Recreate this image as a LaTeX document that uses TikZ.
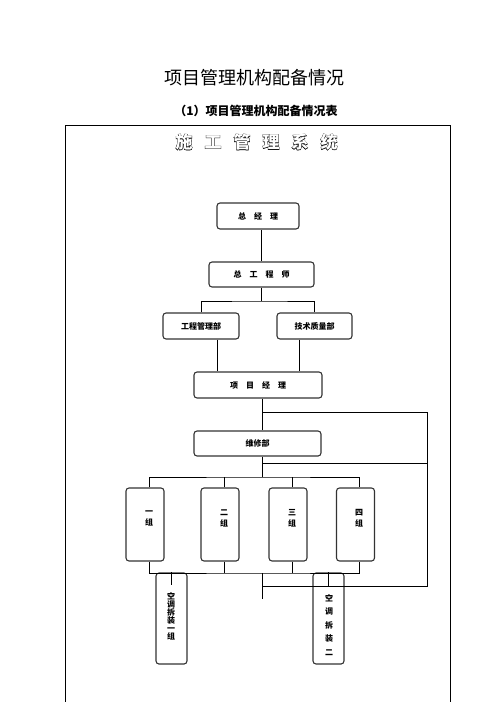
\documentclass[tikz,border=0pt]{standalone}
\usepackage{fontspec}
\setmainfont{Noto Sans CJK SC}
\newfontfamily\outlfont{Noto Sans CJK SC}[BoldFeatures={FakeBold=3.5}]
\usetikzlibrary{positioning}

\begin{document}
\begin{tikzpicture}[
    x=1pt, y=-1pt,
    orgbox/.style = {draw=black!80, line width=1.1pt, rounded corners=3pt, inner sep=0pt},
    colbox/.style = {orgbox, minimum width=38pt, minimum height=73pt},
    conn/.style = {line width=0.8pt},
    lbl/.style = {font=\fontsize{8}{8}\selectfont\bfseries, align=center, inner sep=0pt}
]
    \useasboundingbox (0,0) rectangle (496,702);

    % Titles
    \node at (254,78) [font=\fontsize{18}{18}\selectfont] (T0) {项目管理机构配备情况};
    \node at (256,111) [font=\fontsize{12}{12}\selectfont\bfseries] (T1) {（1）项目管理机构配备情况表};

    % Frame
    \draw[conn] (65,702) -- (65,125) -- (450,125) -- (450,702);

    % Outlined heading
    \foreach \c [count=\i from 0] in {施,工,管,理,系,统} {
        \node at (184+29*\i,142) [font=\fontsize{17}{17}\selectfont\outlfont\bfseries] (H\i) {\c};
        \node at (184+29*\i,142) [font=\fontsize{17}{17}\selectfont\bfseries, text=white] {\c};
    }

    % Boxes
    \node at (258,216) [orgbox, minimum width=82pt, minimum height=26pt, lbl] (GM) {总\quad 经\quad 理};
    \node at (261.5,274.5) [orgbox, minimum width=105pt, minimum height=25pt, lbl] (CE) {总\quad 工\quad 程\quad 师};
    \node at (201,326) [orgbox, minimum width=76pt, minimum height=26pt, lbl] (GCB) {工程管理部};
    \node at (314.5,326) [orgbox, minimum width=75pt, minimum height=26pt, lbl] (JZB) {技术质量部};
    \node at (258,385) [orgbox, minimum width=128pt, minimum height=26pt, lbl] (PM) {项\quad 目\quad 经\quad 理};
    \node at (257.5,443.5) [orgbox, minimum width=127pt, minimum height=25pt, lbl] (WXB) {维修部};

    \node at (145,524.5) [colbox] (G1) {};
    \node at (220,524.5) [colbox] (G2) {};
    \node at (288,524.5) [colbox] (G3) {};
    \node at (355.5,524.5) [colbox] (G4) {};
    \node at (149,518) [lbl] (G1t) {一\\[3pt]组};
    \node at (224,518) [lbl] (G2t) {二\\[3pt]组};
    \node at (292,518) [lbl] (G3t) {三\\[3pt]组};
    \node at (359,518) [lbl] (G4t) {四\\[3pt]组};

    \node at (171.5,618.5) [orgbox, minimum width=31pt, minimum height=91pt] (KT1) {};
    \node at (328.5,618.5) [orgbox, minimum width=31pt, minimum height=91pt] (KT2) {};
    \node at (171,616.5) [lbl] (KT1t) {空\\调\\拆\\装\\一\\组};
    \node at (329,625) [lbl] (KT2t) {空\\[5.5pt]调\\[5.5pt]拆\\[5.5pt]装\\[5.5pt]二};

    % Spine
    \coordinate (B1) at (261.5,301);
    \coordinate (S1) at (262,412);
    \coordinate (S2) at (262,463);
    \coordinate (S3) at (262,477);
    \coordinate (S4) at (262,573);
    \coordinate (S5) at (262,586);
    \coordinate (S6) at (262,599);
    \coordinate (R1) at (427,412);
    \coordinate (R2) at (427,463);
    \coordinate (R3) at (427,586);

    % Top
    \draw[conn] (CE.north) -- (CE.north |- GM.south);
    \draw[conn] (CE.south) -- (B1);
    \draw[conn] (GCB.north) |- (B1) -| (JZB.north);
    \draw[conn] ([xshift=16pt]GCB.south) -- ([xshift=16pt]GCB.south |- PM.north);
    \draw[conn] ([xshift=-15.5pt]JZB.south) -- ([xshift=-15.5pt]JZB.south |- PM.north);
    \draw[conn] (PM.south -| S1) -- (WXB.north -| S1);

    % Right loop
    \draw[conn] (S1) -- (R1) -- (R3) -- (S5);
    \draw[conn] (S2) -- (R2);

    % Groups
    \draw[conn] (WXB.south -| S3) -- (S3);
    \draw[conn] ([xshift=4pt]G1.north) |- (S3) -| ([xshift=4pt]G4.north);
    \draw[conn] ([xshift=4pt]G2.north) -- ([xshift=4pt]G2.north |- S3);
    \draw[conn] ([xshift=4pt]G3.north) -- ([xshift=4pt]G3.north |- S3);
    \draw[conn] ([xshift=4pt]G1.south) |- (S4) -| ([xshift=4pt]G4.south);
    \draw[conn] ([xshift=4pt]G2.south) -- ([xshift=4pt]G2.south |- S4);
    \draw[conn] ([xshift=4pt]G3.south) -- ([xshift=4pt]G3.south |- S4);
    \draw[conn] (S4) -- (S6);

    % Bottom
    \draw[conn] (KT1.north) -- ++(0,13);
    \draw[conn] (KT2.north) -- (KT2.north |- S5);
\end{tikzpicture}
\end{document}
